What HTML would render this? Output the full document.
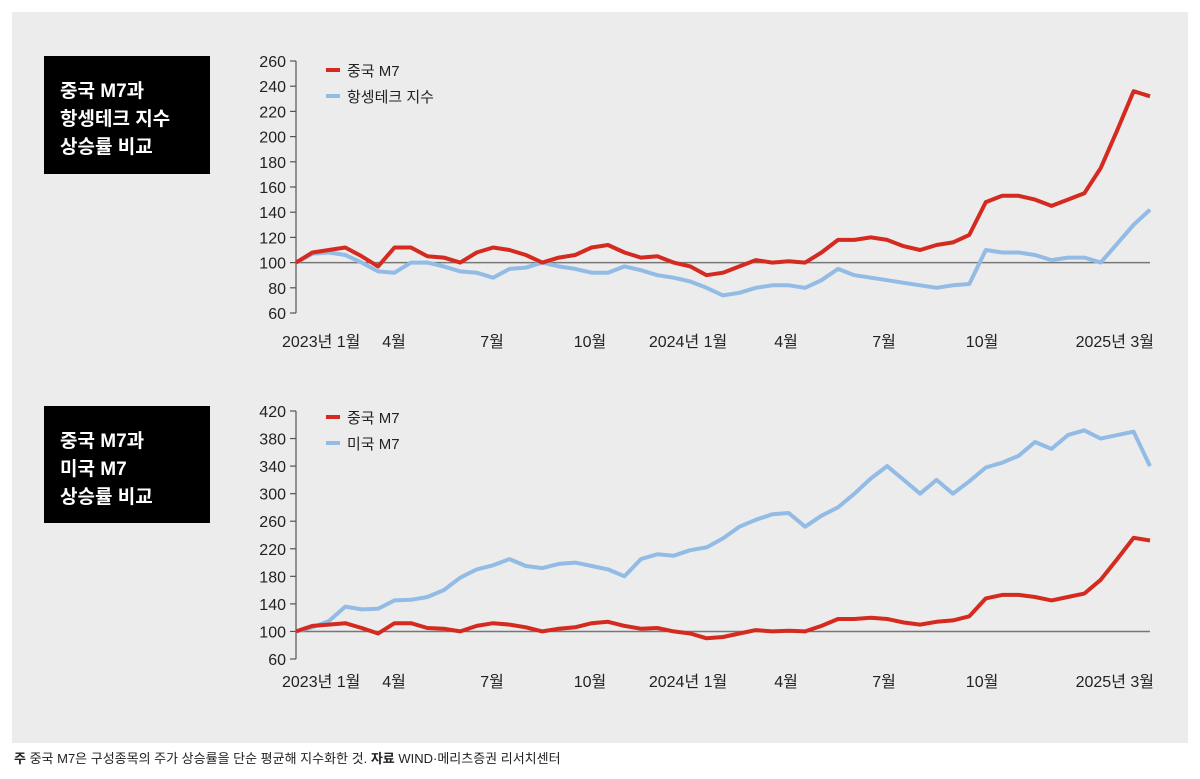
<!DOCTYPE html>
<html><head><meta charset="utf-8">
<style>
html,body{margin:0;padding:0;background:#fff;}
svg{display:block;font-family:"Liberation Sans","Noto Sans CJK KR",sans-serif;}
</style></head>
<body>
<svg id="root" width="1200" height="779" viewBox="0 0 1200 779" xmlns="http://www.w3.org/2000/svg">
<rect x="12" y="12" width="1176" height="731" fill="#ececec"/>
<g>
<rect x="44" y="56" width="166" height="118" fill="#000"/>
<text x="60" y="97" fill="#fff" font-size="19" font-weight="bold">중국 M7과</text>
<text x="60" y="125" fill="#fff" font-size="19" font-weight="bold">항셍테크 지수</text>
<text x="60" y="153" fill="#fff" font-size="19" font-weight="bold">상승률 비교</text>
</g>
<g>
<rect x="44" y="406" width="166" height="117" fill="#000"/>
<text x="60" y="447" fill="#fff" font-size="19" font-weight="bold">중국 M7과</text>
<text x="60" y="475" fill="#fff" font-size="19" font-weight="bold">미국 M7</text>
<text x="60" y="503" fill="#fff" font-size="19" font-weight="bold">상승률 비교</text>
</g>
<g id="c1"></g>
<g id="c2"></g>
<text x="14" y="763" font-size="13" fill="#222"><tspan font-weight="bold">주</tspan> 중국 M7은 구성종목의 주가 상승률을 단순 평균해 지수화한 것. <tspan font-weight="bold">자료</tspan> WIND·메리츠증권 리서치센터</text>
</svg>
<script>
const xLabels = ["2023년 1월","4월","7월","10월","2024년 1월","4월","7월","10월","2025년 3월"];
const xLabelMonths = [0,3,6,9,12,15,18,21,26];
const chinaM7 = [100,108,110,112,105,97,112,112,105,104,100,108,112,110,106,100,104,106,112,114,108,104,105,100,
97,90,92,97,102,100,101,100,108,118,118,120,118,113,110,114,116,122,148,153,153,150,145,150,
155,175,205,236,232];
const hangSeng = [100,107,108,106,100,93,92,100,100,97,93,92,88,95,96,100,97,95,92,92,97,94,90,88,
85,80,74,76,80,82,82,80,86,95,90,88,86,84,82,80,82,83,110,108,108,106,102,104,
104,100,115,130,142];
const usM7 = [100,106,115,136,132,133,145,146,150,160,178,190,196,205,195,192,198,200,195,190,180,205,212,210,
218,222,235,252,262,270,272,252,268,280,300,322,340,320,300,320,300,318,338,345,355,375,365,385,
392,380,385,390,340];
const ticks1 = [60,80,100,120,140,160,180,200,220,240,260];
const ticks2 = [60,100,140,180,220,260,300,340,380,420];

const NS="http://www.w3.org/2000/svg";
const X0=296, X1=1150, MONTH=32.67;
function mk(tag, attrs, parent){const e=document.createElementNS(NS,tag);for(const k in attrs)e.setAttribute(k,attrs[k]);parent.appendChild(e);return e;}
function xIdx(i,n){return X0+i*(X1-X0)/(n-1);}
function xMonth(m){return X0+m*MONTH;}

function drawChart(g, cfg){
  const y = v => cfg.yTop + (cfg.vMax - v)/(cfg.vMax-cfg.vMin)*(cfg.yBot-cfg.yTop);
  const ax = mk('line',{x1:X0,y1:y(cfg.vMax),x2:X0,y2:y(cfg.vMin),stroke:'#555','stroke-width':1.2},g);
  
  
  cfg.ticks.forEach(t=>{
    const tl=mk('line',{x1:X0-6,y1:y(t),x2:X0,y2:y(t),stroke:'#555','stroke-width':1.2},g);
    
    
    const tx=mk('text',{x:X0-10,y:y(t)+6,'text-anchor':'end','font-size':16,fill:'#222'},g);
    tx.textContent=t;
    
    
  });
  const base=mk('line',{x1:X0,y1:y(100),x2:X1,y2:y(100),stroke:'#777','stroke-width':1.5},g);
  
  
  xLabels.forEach((l,i)=>{
    const m=xLabelMonths[i];
    let anchor='middle', xx=xMonth(m);
    if(i===0){anchor='start'; xx=X0-14;}
    if(i===xLabels.length-1){anchor='end'; xx=X1+4;}
    const t=mk('text',{x:xx,y:cfg.xLabelY,'text-anchor':anchor,'font-size':16,fill:'#222'},g);
    t.textContent=l;
    
    
  });
  cfg.series.forEach(s=>{
    const d=s.data.map((v,i)=>(i?'L':'M')+xIdx(i,s.data.length).toFixed(1)+','+y(v).toFixed(1)).join(' ');
    const p=mk('path',{d:d,fill:'none',stroke:s.color,'stroke-width':4,'stroke-linejoin':'round'},g);
    
    
  });
  cfg.legend.forEach((s,i)=>{
    const ly=cfg.legendY+i*26;
    const lg=mk('g',{},g);
    
    
    mk('line',{x1:326,y1:ly,x2:340,y2:ly,stroke:s.color,'stroke-width':4},lg);
    const t=mk('text',{x:347,y:ly+6,'font-size':15,fill:'#222'},lg);
    t.textContent=s.label;
  });
}
const RED='#d42a1f', BLUE='#92bbe5';
drawChart(document.getElementById('c1'),{yTop:61,yBot:313,vMin:60,vMax:260,ticks:ticks1,xLabelY:347,legendY:70,
  series:[{data:hangSeng,color:BLUE,name:'hangseng-tech-line'},{data:chinaM7,color:RED,name:'china-m7-line'}],
  legend:[{color:RED,label:'중국 M7'},{color:BLUE,label:'항셍테크 지수'}]});
drawChart(document.getElementById('c2'),{yTop:411,yBot:659,vMin:60,vMax:420,ticks:ticks2,xLabelY:687,legendY:417,
  series:[{data:usM7,color:BLUE,name:'us-m7-line'},{data:chinaM7,color:RED,name:'china-m7-line-2'}],
  legend:[{color:RED,label:'중국 M7'},{color:BLUE,label:'미국 M7'}]});
</script>
</body></html>
